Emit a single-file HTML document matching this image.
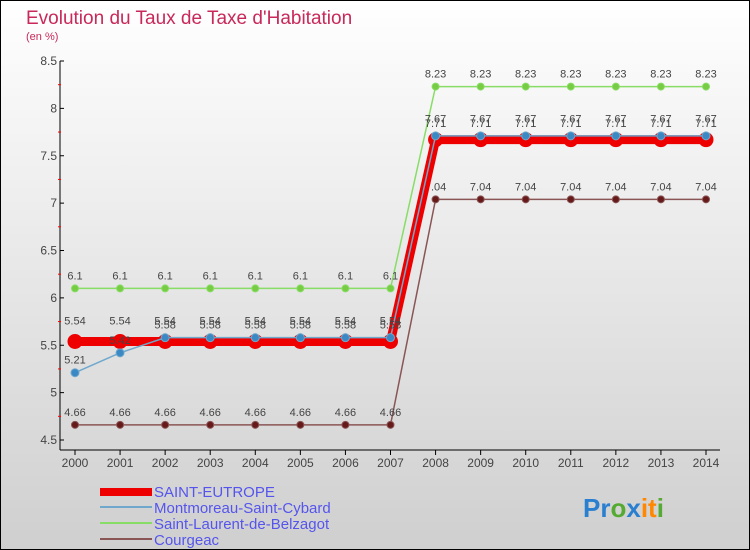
<!DOCTYPE html>
<html><head><meta charset="utf-8"><style>
body{margin:0}
#c{width:750px;height:550px;position:relative;overflow:hidden;font-family:"Liberation Sans",sans-serif}
</style></head><body>
<div id="c">
<svg id="s" width="750" height="550" xmlns="http://www.w3.org/2000/svg">
<defs><linearGradient id="bg" x1="0" y1="0" x2="0" y2="1"><stop offset="0" stop-color="#ffffff"/><stop offset="1" stop-color="#cfcfcf"/></linearGradient></defs>
<rect x="0.5" y="0.5" width="749" height="549" fill="url(#bg)" stroke="#000"/>
<text x="26" y="24" font-size="19" fill="#c8285a">Evolution du Taux de Taxe d'Habitation</text>
<text x="26" y="40" font-size="11" fill="#c8285a">(en %)</text>
<g id="axes"></g><g id="series"></g>
<g>
<rect x="100" y="488" width="52" height="8" fill="#ee0000"/>
<text x="154" y="497" font-size="15" fill="#5555ee">SAINT-EUTROPE</text>
<rect x="100" y="506" width="52" height="2" fill="#6fa8cc"/>
<text x="154" y="513" font-size="15" fill="#5555ee">Montmoreau-Saint-Cybard</text>
<rect x="100" y="522" width="52" height="2" fill="#88dd66"/>
<text x="154" y="529" font-size="15" fill="#5555ee">Saint-Laurent-de-Belzagot</text>
<rect x="100" y="538" width="52" height="2" fill="#8a5555"/>
<text x="154" y="545" font-size="15" fill="#5555ee">Courgeac</text>
</g>
<text x="583" y="517" font-size="26" font-weight="bold"><tspan fill="#2a7fd0">Pr</tspan><tspan fill="#55aa33">o</tspan><tspan fill="#2a7fd0">x</tspan><tspan fill="#ff8800">it</tspan><tspan fill="#55aa33">i</tspan></text>
</svg></div>
<script>
const years=[2000,2001,2002,2003,2004,2005,2006,2007,2008,2009,2010,2011,2012,2013,2014];
const yTicks=[4.5,5,5.5,6,6.5,7,7.5,8,8.5];
const saintEutrope=[5.54,5.54,5.54,5.54,5.54,5.54,5.54,5.54,7.67,7.67,7.67,7.67,7.67,7.67,7.67];
const montmoreau=[5.21,5.42,5.58,5.58,5.58,5.58,5.58,5.58,7.71,7.71,7.71,7.71,7.71,7.71,7.71];
const saintLaurent=[6.1,6.1,6.1,6.1,6.1,6.1,6.1,6.1,8.23,8.23,8.23,8.23,8.23,8.23,8.23];
const courgeac=[4.66,4.66,4.66,4.66,4.66,4.66,4.66,4.66,7.04,7.04,7.04,7.04,7.04,7.04,7.04];
const NS="http://www.w3.org/2000/svg";
const X=i=>75+i*(631/14);
const Y=v=>61+(8.5-v)*94.75;
function mk(t,a,p){const e=document.createElementNS(NS,t);for(const k in a)e.setAttribute(k,a[k]);p.appendChild(e);return e;}
const ax=document.getElementById('axes');
let l=mk('line',{x1:60,y1:61,x2:60,y2:450,stroke:'#000'},ax);


l=mk('line',{x1:60,y1:450,x2:720,y2:450,stroke:'#000'},ax);


yTicks.forEach((v,i)=>{
 mk('line',{x1:60,y1:Y(v),x2:64,y2:Y(v),stroke:'#000'},ax);
 if(i<yTicks.length-1)mk('line',{x1:58,y1:Y(v+0.25),x2:61,y2:Y(v+0.25),stroke:'#f00'},ax);
 const t=mk('text',{x:57,y:Y(v)+4,'font-size':12,'text-anchor':'end',fill:'#444'},ax);
 t.textContent=String(v);
 
 
});
years.forEach((y,i)=>{
 mk('line',{x1:X(i),y1:450,x2:X(i),y2:455,stroke:'#000'},ax);
 const t=mk('text',{x:X(i),y:467,'font-size':12,'text-anchor':'middle',fill:'#444'},ax);
 t.textContent=String(y);
 
 
});
const sg=document.getElementById('series');
function series(vals,name,color,w,r,dot,lab){
 const g=mk('g',{},sg);
 
 
 mk('polyline',{points:vals.map((v,i)=>X(i)+','+Y(v)).join(' '),fill:'none',stroke:color,'stroke-width':w},g);
 vals.forEach((v,i)=>{
  const c=mk('circle',{cx:X(i),cy:Y(v),r:r,fill:dot,stroke:color,'stroke-width':1},g);
  
  
  const t=mk('text',{x:X(i),y:Y(v)-lab,'font-size':11,'text-anchor':'middle',fill:'#444'},g);
  t.textContent=String(v);
  
  
 });
}
series(saintLaurent,'saint-laurent','#88dd66',1.5,3.5,'#77cc44',9);
series(courgeac,'courgeac','#8a5555',1.5,3.5,'#661a1a',9);
series(saintEutrope,'saint-eutrope','#ee0000',9,7,'#ee0000',17);
series(montmoreau,'montmoreau','#6fa8cc',1.5,4,'#3a88c4',9);
</script>
</body></html>
